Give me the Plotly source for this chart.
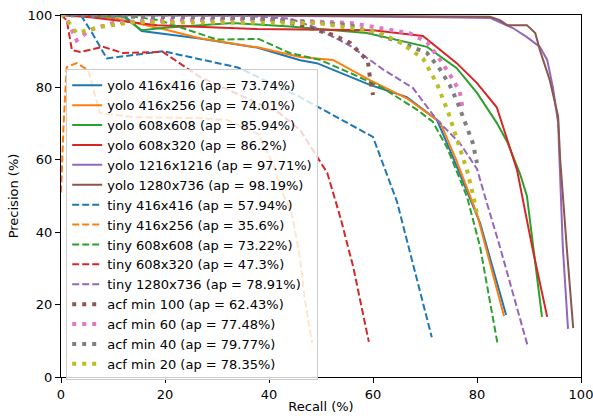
import plotly.graph_objects as go

# ---- data (recall %, precision %) ----
yolo_416x416_r = [0, 12, 15.5, 26.7, 37.7, 46, 49.2, 59.4, 66.5, 72.3, 74.8, 78, 80.6, 85.6]
yolo_416x416_p = [100, 100, 95.6, 93.5, 91, 87.5, 86.7, 80.7, 77.3, 71, 62.7, 51.7, 42.5, 17.1]

yolo_416x256_r = [0, 10, 20, 26.7, 38, 46, 52.3, 59.4, 66.5, 72.9, 76, 80, 85.2]
yolo_416x256_p = [100, 99.2, 96, 93.6, 91, 88.4, 87.6, 82, 77, 70.4, 60, 45, 16.8]

yolo_608x608_r = [0, 12, 15.5, 20, 33, 44, 58.8, 70.4, 76.1, 80, 83.8, 85.8, 88.3, 89.6, 92.5]
yolo_608x608_p = [100, 99.5, 95.8, 96.5, 97.8, 96.8, 95, 91.2, 85.3, 78.5, 70.2, 65, 56, 50, 16.6]

yolo_608x320_r = [0, 5.6, 18.5, 37.7, 60, 69.6, 76.1, 80, 83.8, 87.7, 90.6, 93.5]
yolo_608x320_p = [100, 99.4, 97.2, 96.1, 95.8, 94.2, 86.7, 81.2, 74.5, 57.2, 36, 16.6]

yolo_1216x1216_r = [0, 40, 72.9, 82.5, 84.4, 86.9, 89.6, 92.1, 93.5, 94.6, 95.6, 96.5, 97.5]
yolo_1216x1216_p = [100, 99.8, 99.4, 99.2, 98, 96.4, 93.9, 91.2, 87.6, 80, 70.2, 36, 13.3]

yolo_1280x736_r = [0, 40, 72.9, 82.5, 84.4, 85.8, 89.6, 91.2, 92.1, 94, 95.6, 96, 97.3, 98.5]
yolo_1280x736_p = [100, 99.9, 99.6, 99.5, 98.6, 97.2, 97.2, 95, 90.3, 82, 72, 60, 35, 13.5]

tiny_416x416_r = [0, 3.8, 6, 8.8, 19.6, 34, 46, 60, 64.6, 71.3]
tiny_416x416_p = [100, 100, 95, 88, 90, 85.5, 77.3, 66.3, 48.5, 11]

tiny_416x256_r = [0, 0.5, 1.1, 3, 5.2, 7.5, 13.8, 26.7, 32, 38, 41, 42.5, 44.4, 46, 46.9, 48.3]
tiny_416x256_p = [51, 70, 85.6, 86.7, 84.8, 72.9, 71.8, 71.5, 71, 67, 58, 51, 45.3, 32.3, 21.3, 9.4]

tiny_608x608_r = [0, 12, 19, 30, 38, 44, 49.8, 55.6, 61.9, 68.5, 71.5, 74.2, 78.1, 80.6, 84]
tiny_608x608_p = [100, 100, 98.5, 93.2, 93.4, 89.5, 87.6, 84, 79.8, 73.8, 70.5, 63.5, 49.7, 35.9, 8.8]

tiny_608x320_r = [0, 1.1, 2.1, 3.7, 8.1, 11.9, 19.6, 24.2, 26.7, 35, 42, 46, 51.2, 53.7, 56.2, 59.2]
tiny_608x320_p = [100, 98.6, 90.3, 89.8, 91.2, 89.5, 89.8, 85.4, 82.9, 77.5, 72.9, 68.2, 56.4, 44.2, 30.4, 9.7]

tiny_1280x736_r = [0, 35, 44, 49, 55.6, 61.9, 67.7, 72.3, 76.7, 80, 81.5, 84.4, 89.8]
tiny_1280x736_p = [100, 99.8, 99, 96.5, 91.5, 85, 79.8, 71, 64.6, 57.5, 50, 36, 8.3]

acf_100_r = [0, 20, 40, 46, 52.3, 55.6, 57.5, 59, 59.4, 60]
acf_100_p = [100, 99.8, 99, 97.2, 94.5, 92.3, 89.5, 87.3, 82.8, 77.9]

acf_60_r = [0, 0.8, 3, 5.6, 10, 15.2, 36.3, 55.6, 67, 70.4, 72.9, 74.8, 76.7, 77.3]
acf_60_p = [100, 100, 93, 95.9, 97.8, 98.3, 98.9, 97.8, 95, 92.5, 87.6, 83.5, 78.8, 73.5]

acf_40_r = [0, 10, 36.3, 55.6, 65.2, 70.4, 72.9, 74.8, 76.3, 77.3, 79.2, 80]
acf_40_p = [100, 99.6, 99.2, 97.2, 92.5, 89.5, 85, 80.5, 75.7, 72, 64.6, 59.1]

acf_20_r = [0, 0.4, 3, 7.5, 13.8, 36.3, 49.2, 60.8, 65.2, 69.6, 72.3, 74.5, 76.5, 78.1, 79.3, 80]
acf_20_p = [100, 100, 95, 96.7, 98, 97.8, 97.8, 95.3, 92.5, 88, 81, 73, 64, 57, 50, 45]

series = [
    ("yolo 416x416 (ap = 73.74%)", yolo_416x416_r, yolo_416x416_p, "#1f77b4", "solid"),
    ("yolo 416x256 (ap = 74.01%)", yolo_416x256_r, yolo_416x256_p, "#ff7f0e", "solid"),
    ("yolo 608x608 (ap = 85.94%)", yolo_608x608_r, yolo_608x608_p, "#2ca02c", "solid"),
    ("yolo 608x320 (ap = 86.2%)", yolo_608x320_r, yolo_608x320_p, "#d62728", "solid"),
    ("yolo 1216x1216 (ap = 97.71%)", yolo_1216x1216_r, yolo_1216x1216_p, "#9467bd", "solid"),
    ("yolo 1280x736 (ap = 98.19%)", yolo_1280x736_r, yolo_1280x736_p, "#8c564b", "solid"),
    ("tiny 416x416 (ap = 57.94%)", tiny_416x416_r, tiny_416x416_p, "#1f77b4", "dash"),
    ("tiny 416x256 (ap = 35.6%)", tiny_416x256_r, tiny_416x256_p, "#ff7f0e", "dash"),
    ("tiny 608x608 (ap = 73.22%)", tiny_608x608_r, tiny_608x608_p, "#2ca02c", "dash"),
    ("tiny 608x320 (ap = 47.3%)", tiny_608x320_r, tiny_608x320_p, "#d62728", "dash"),
    ("tiny 1280x736 (ap = 78.91%)", tiny_1280x736_r, tiny_1280x736_p, "#9467bd", "dash"),
    ("acf min 100 (ap = 62.43%)", acf_100_r, acf_100_p, "#8c564b", "dot"),
    ("acf min 60 (ap = 77.48%)", acf_60_r, acf_60_p, "#e377c2", "dot"),
    ("acf min 40 (ap = 79.77%)", acf_40_r, acf_40_p, "#7f7f7f", "dot"),
    ("acf min 20 (ap = 78.35%)", acf_20_r, acf_20_p, "#bcbd22", "dot"),
]

fig = go.Figure()
for name, r, p, color, style in series:
    if style == "solid":
        line = dict(color=color, width=2)
    elif style == "dash":
        line = dict(color=color, width=2, dash="7px,3px")
    else:
        line = dict(color=color, width=4, dash="4px,6px")
    fig.add_trace(go.Scatter(x=r, y=p, mode="lines", name=name, line=line))

axis_common = dict(
    range=[0, 100], showgrid=False, zeroline=False, automargin=False,
    showline=True, linecolor="black", linewidth=1, mirror=True,
    ticks="outside", ticklen=5, tickwidth=1, tickcolor="black",
    tickvals=[0, 20, 40, 60, 80, 100], ticklabeloverflow="allow",
    tickfont=dict(family="DejaVu Sans", size=13, color="black"),
)

fig.update_layout(
    width=593, height=420,
    margin=dict(l=61, r=12, t=15, b=43, autoexpand=False),
    paper_bgcolor="white", plot_bgcolor="white",
    font=dict(family="DejaVu Sans", size=13, color="black"),
    xaxis=dict(axis_common, title=dict(text="Recall (%)", standoff=1,
               font=dict(family="DejaVu Sans", size=13))),
    yaxis=dict(axis_common, title=dict(text="Precision (%)", standoff=6,
               font=dict(family="DejaVu Sans", size=13))),
    legend=dict(
        x=0.01, y=0.85, xanchor="left", yanchor="top",
        bgcolor="rgba(255,255,255,0.8)", bordercolor="#cccccc", borderwidth=1,
        font=dict(family="DejaVu Sans", size=13, color="black"),
        itemwidth=30, tracegroupgap=0,
    ),
    showlegend=True,
)

fig.write_html(
    "out.html",
    config={"displayModeBar": False},
    post_script="document.body.style.margin='0';document.body.style.padding='0';document.body.style.overflow='hidden';",
)
